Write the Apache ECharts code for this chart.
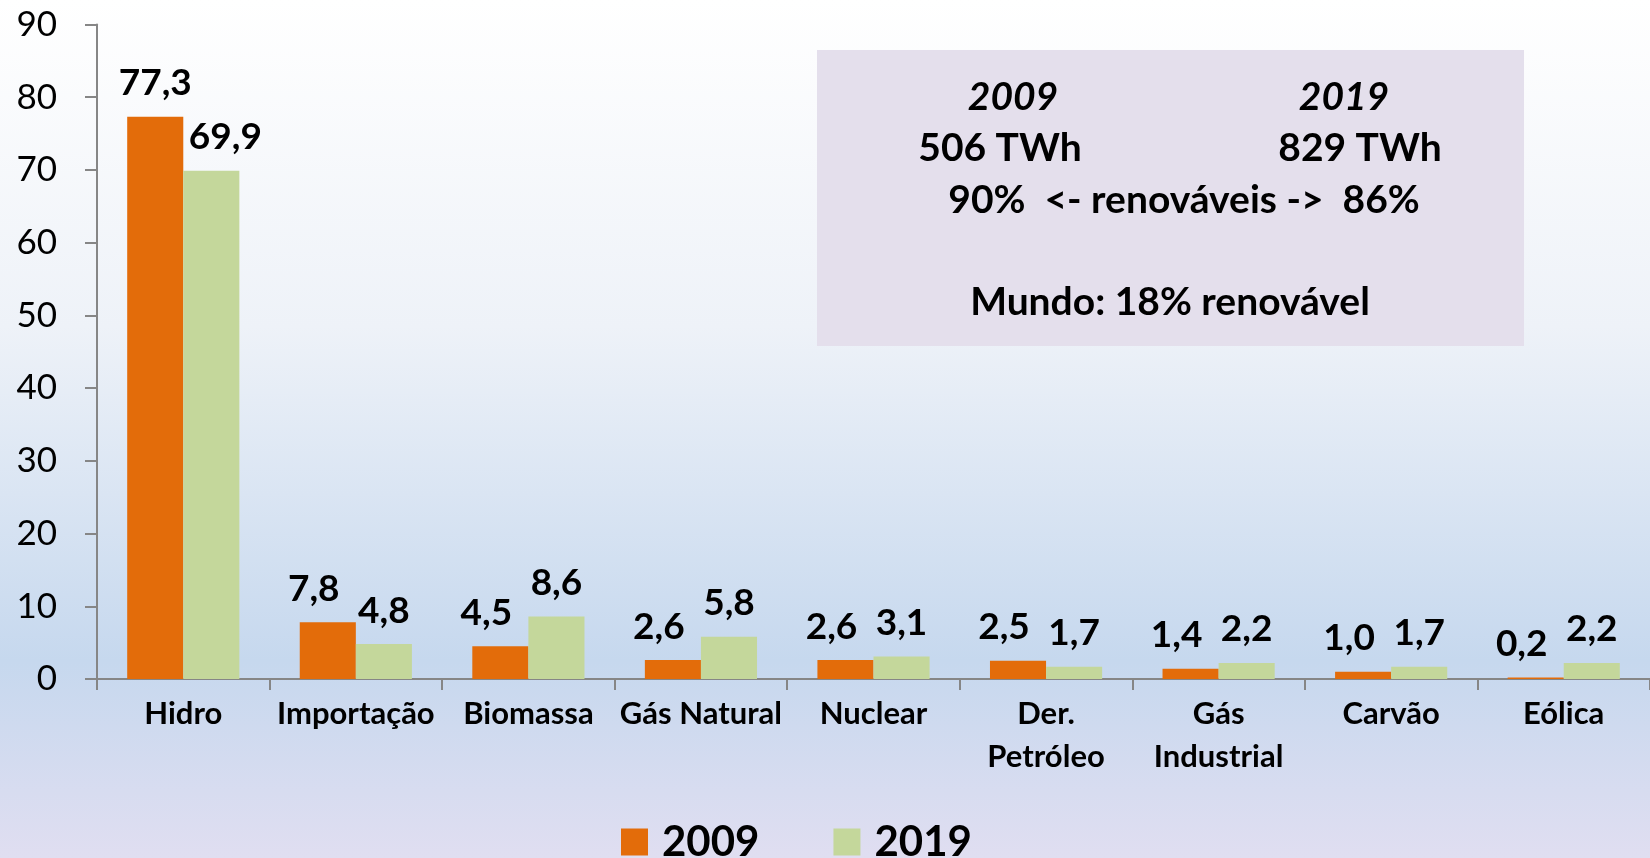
<!DOCTYPE html>
<html lang="pt">
<head>
<meta charset="utf-8">
<script src="https://cdn.jsdelivr.net/npm/echarts@6/dist/echarts.min.js"></script>
<style>
  html, body { margin: 0; padding: 0; }
  #main { width: 1650px; height: 858px; }
</style>
</head>
<body>
<div id="main"></div>
<script type="text/javascript">
var categories = ['Hidro', 'Importação', 'Biomassa', 'Gás Natural', 'Nuclear', 'Der.\nPetróleo', 'Gás\nIndustrial', 'Carvão', 'Eólica'];
var values2009 = [77.3, 7.8, 4.5, 2.6, 2.6, 2.5, 1.4, 1.0, 0.2];
var values2019 = [69.9, 4.8, 8.6, 5.8, 3.1, 1.7, 2.2, 1.7, 2.2];
var seriesNames = ['2009', '2019'];
var boxLines = [
  { text: '2009', x: 1013, y: 97, italic: true },
  { text: '2019', x: 1344, y: 97, italic: true },
  { text: '506 TWh', x: 1000, y: 148 },
  { text: '829 TWh', x: 1360, y: 148 },
  { text: '90%  <- renováveis ->  86%', x: 1184, y: 200 },
  { text: 'Mundo: 18% renovável', x: 1170, y: 302 }
];

var FONT = 'Lato, "Open Sans", sans-serif';

function fmt(p) {
  return p.value.toFixed(1).replace('.', ',');
}

// like excel: push the two labels of a pair apart so they don't touch
function withLabelShift(values, other, isFirst) {
  return values.map(function (v, i) {
    var big = values2009[i] > values2019[i] + 5;
    var dx = 0;
    if (isFirst && !big) dx = -14;
    if (!isFirst && big) dx = 14;
    return { value: v, label: { offset: [dx, 0] } };
  });
}

var chart = echarts.init(document.getElementById('main'));

var boxGraphics = [{
  type: 'rect',
  shape: { x: 817, y: 50, width: 707, height: 296 },
  style: { fill: '#e4dfec' },
  z: 0
}];
boxLines.forEach(function (l) {
  boxGraphics.push({
    type: 'text',
    x: l.x, y: l.y,
    style: {
      text: l.text,
      fontFamily: FONT,
      fontSize: 39,
      fontWeight: 'bold',
      fontStyle: l.italic ? 'italic' : 'normal',
      fill: '#000',
      textAlign: 'center',
      textVerticalAlign: 'middle'
    },
    z: 1
  });
});

var labelStyle = {
  show: true, position: 'top', distance: 15, formatter: fmt,
  fontFamily: FONT, fontSize: 37, fontWeight: 'bold', color: '#000'
};

var option = {
  animation: false,
  backgroundColor: {
    type: 'linear', x: 0, y: 0, x2: 0, y2: 1,
    colorStops: [
      { offset: 0, color: '#ffffff' },
      { offset: 0.38, color: '#eef2f8' },
      { offset: 0.77, color: '#c6d8ee' },
      { offset: 1, color: '#e0def1' }
    ]
  },
  grid: { left: 97, right: 0, top: 24.5, bottom: 179 },
  legend: {
    data: seriesNames,
    left: 616,
    top: 816,
    itemWidth: 27,
    itemHeight: 27,
    itemGap: 74,
    icon: 'rect',
    textStyle: { fontFamily: FONT, fontSize: 42, fontWeight: 'bold', color: '#000', padding: [0, 0, 0, 9] }
  },
  xAxis: {
    type: 'category',
    data: categories,
    axisLine: { lineStyle: { color: '#868686', width: 2 } },
    axisTick: { show: true, length: 11, lineStyle: { color: '#868686', width: 2 } },
    axisLabel: {
      interval: 0,
      margin: 13,
      fontFamily: FONT,
      fontSize: 31,
      fontWeight: 'bold',
      color: '#000',
      lineHeight: 43
    }
  },
  yAxis: {
    type: 'value',
    min: 0,
    max: 90,
    interval: 10,
    splitLine: { show: false },
    axisLine: { show: true, lineStyle: { color: '#868686', width: 2 } },
    axisTick: { show: true, length: 12, lineStyle: { color: '#868686', width: 2 } },
    axisLabel: { fontFamily: FONT, fontSize: 35, color: '#000', margin: 40 }
  },
  series: [
    {
      name: seriesNames[0],
      type: 'bar',
      data: withLabelShift(values2009, values2019, true),
      barGap: '0%',
      barCategoryGap: '35%',
      itemStyle: { color: '#e36c0a' },
      label: labelStyle
    },
    {
      name: seriesNames[1],
      type: 'bar',
      data: withLabelShift(values2019, values2009, false),
      itemStyle: { color: '#c4d79b' },
      label: labelStyle
    }
  ],
  graphic: boxGraphics
};

chart.setOption(option);
</script>
</body>
</html>
